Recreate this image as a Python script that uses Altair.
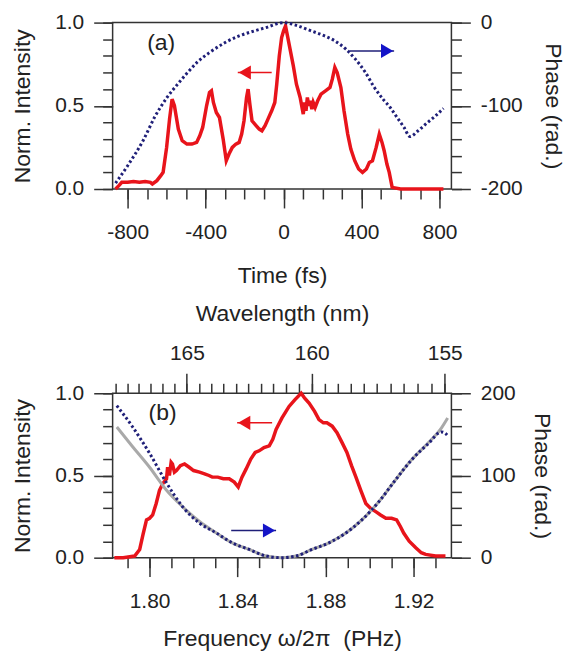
import altair as alt
import pandas as pd

FONT = "Liberation Sans"
RED = "#e8141b"
NAVY = "#1f1f78"
ARROW_BLUE = "#1414c8"
GREY = "#a9a9a9"
TXT = "#222222"
AXC = "#333333"
C_NM_PHZ = 299.792458

# ---------------- panel (a): temporal intensity / phase ----------------
time_fs = [-862, -845, -830, -800, -770, -740, -710, -683, -673, -650, -630, -618, -600, -585,
           -572, -560, -540, -520, -496, -470, -446, -430, -415, -395, -380, -370, -360, -345,
           -329, -310, -294, -280, -263, -245, -228, -215, -203, -190, -182, -172, -162, -140,
           -125, -111, -95, -80, -61, -45, -35, -22, -10, 0, 10, 20, 35, 50, 66, 85, 101, 108,
           115, 122, 130, 137, 145, 152, 162, 175, 192, 215, 238, 250, 263, 275, 294, 310, 329,
           345, 365, 385, 405, 425, 440, 456, 475, 491, 505, 516, 530, 542, 557, 600, 700, 820]
intensity_a = [0.0, 0.02, 0.04, 0.04, 0.045, 0.04, 0.045, 0.04, 0.03, 0.05, 0.08, 0.10, 0.25, 0.42,
               0.54, 0.50, 0.36, 0.29, 0.27, 0.27, 0.28, 0.32, 0.37, 0.50, 0.58, 0.59, 0.52, 0.46,
               0.43, 0.30, 0.17, 0.21, 0.25, 0.27, 0.28, 0.33, 0.41, 0.55, 0.60, 0.50, 0.41, 0.38,
               0.36, 0.35, 0.38, 0.42, 0.47, 0.52, 0.63, 0.80, 0.91, 0.95, 0.98, 0.92, 0.83, 0.74,
               0.63, 0.55, 0.45, 0.52, 0.47, 0.55, 0.50, 0.53, 0.48, 0.52, 0.49, 0.53, 0.57, 0.59,
               0.61, 0.66, 0.73, 0.70, 0.61, 0.47, 0.33, 0.24, 0.17, 0.12, 0.10, 0.12, 0.16, 0.17,
               0.25, 0.33, 0.28, 0.23, 0.15, 0.10, 0.01, 0.0, 0.0, 0.0]
phase_time = [-862, -800, -719, -660, -598, -540, -496, -440, -380, -300, -228, -150, -91, 0, 61,
              142, 200, 263, 320, 365, 420, 466, 510, 547, 585, 618, 648, 690, 734, 780, 820]
phase_a = [-193, -172, -141, -113, -90, -73, -61, -47, -36, -24, -16, -10, -6, 0, -3,
           -10, -15, -22, -32, -43, -60, -78, -92, -102, -115, -126, -137, -130, -121, -112, -103]

# ---------------- panel (b): spectral intensity / phase ----------------
freq_b = [1.7840, 1.7880, 1.7932, 1.7955, 1.7970, 1.7986, 1.8000, 1.8014, 1.8030, 1.8045, 1.8060,
          1.8077, 1.8082, 1.8090, 1.8098, 1.8104, 1.8113, 1.8122, 1.8140, 1.8159, 1.8180, 1.8200,
          1.8227, 1.8250, 1.8270, 1.8285, 1.8310, 1.8335, 1.8362, 1.8385, 1.8403, 1.8420, 1.8439,
          1.8460, 1.8480, 1.8498, 1.8520, 1.8544, 1.8560, 1.8575, 1.8602, 1.8634, 1.8660, 1.8689,
          1.8705, 1.8725, 1.8750, 1.8770, 1.8790, 1.8806, 1.8830, 1.8852, 1.8875, 1.8897, 1.8918,
          1.8938, 1.8960, 1.8983, 1.9005, 1.9028, 1.9050, 1.9074, 1.9100, 1.9123, 1.9140, 1.9155,
          1.9180, 1.9210, 1.9235, 1.9255, 1.9300, 1.9345]
intensity_b = [0.0, 0.0, 0.01, 0.05, 0.14, 0.23, 0.24, 0.26, 0.33, 0.41, 0.45, 0.48, 0.55, 0.50,
               0.58, 0.57, 0.52, 0.53, 0.56, 0.57, 0.55, 0.53, 0.52, 0.51, 0.50, 0.49, 0.49, 0.48,
               0.48, 0.46, 0.43, 0.49, 0.54, 0.60, 0.64, 0.65, 0.67, 0.68, 0.72, 0.78, 0.85, 0.92,
               0.96, 1.0, 0.97, 0.94, 0.89, 0.84, 0.82, 0.82, 0.80, 0.76, 0.70, 0.64, 0.56, 0.49,
               0.41, 0.33, 0.30, 0.28, 0.26, 0.24, 0.24, 0.23, 0.19, 0.15, 0.10, 0.06, 0.03, 0.02,
               0.01, 0.01]
phase_freq = [1.7851, 1.7923, 1.8000, 1.8077, 1.8150, 1.8227, 1.8304, 1.8376, 1.8453, 1.8530,
              1.8600, 1.8666, 1.8738, 1.8815, 1.8892, 1.8965, 1.9042, 1.9119, 1.9191, 1.9268,
              1.9327, 1.9345, 1.9359]
phase_b = [185, 159, 127, 91, 62, 42, 30, 18, 10, 2, 0, 2, 10, 18, 30, 46, 68, 95, 119, 139,
           153, 151, 147]
grey_freq = [1.7851, 1.7923, 1.8000, 1.8077, 1.8150, 1.8227, 1.8304, 1.8376, 1.8453, 1.8530,
             1.8600, 1.8666, 1.8738, 1.8815, 1.8892, 1.8965, 1.9042, 1.9119, 1.9191, 1.9268,
             1.9327, 1.9355]
grey_b = [159, 135, 110, 82, 62, 44, 30, 18, 10, 2, 0, 2, 10, 18, 30, 46, 68, 95, 119, 140,
          158, 170]

# tick values
t_major = [-800, -400, 0, 400, 800]
t_minor = list(range(-800, 801, 100))
f_major = [1.80, 1.84, 1.88, 1.92]
f_minor = [round(1.79 + 0.01 * i, 2) for i in range(15)]
wl_major = [165, 160, 155]
wl_minor = [155 + 0.5 * i for i in range(27)]
i_major = [0, 0.5, 1.0]
i_minor = [round(0.1 * i, 1) for i in range(11)]
pa_major = [-200, -100, 0]
pa_minor = list(range(-200, 1, 20))
pb_major = [0, 100, 200]
pb_minor = list(range(0, 201, 20))

# annotations (in data coordinates of the intensity axis)
labels_a = pd.DataFrame({"x": [-628], "y": [0.88], "txt": ["(a)"]})
labels_b = pd.DataFrame({"x": [1.8059], "y": [0.88], "txt": ["(b)"]})
arrows_a = pd.DataFrame({"x": [-61, 339], "x2": [-235, 567], "y": [0.70, 0.83],
                         "line": [RED, NAVY], "head": [RED, ARROW_BLUE],
                         "hx": [-199, 531], "shape": ["triangle-left", "triangle-right"]})
arrows_b = pd.DataFrame({"x": [1.8557, 1.8371], "x2": [1.8398, 1.8575], "y": [0.82, 0.165],
                         "line": [RED, NAVY], "head": [RED, ARROW_BLUE],
                         "hx": [1.8430, 1.8543], "shape": ["triangle-left", "triangle-right"]})

T_DOM = [-877, 861]
F_DOM = [1.7832, 1.9372]
W = 340
H_A = 167
H_B = 165
MAJOR = 19
MINOR = 10


def ax(**kw):
    base = dict(labelFont=FONT, titleFont=FONT, labelFontSize=21, titleFontSize=23,
                labelColor=TXT, titleColor=TXT, tickColor=AXC, tickWidth=1.5, domain=False,
                grid=False, labelFlush=False, labelOverlap=False,
                titleFontWeight="normal", labelFontWeight="normal")
    base.update(kw)
    return alt.Axis(**base)


def sc(dom):
    return alt.Scale(domain=dom, nice=False, zero=False)


def minor_axis_layer(vals, dom, orient, field):
    """Invisible layer whose only job is to carry a short-tick (minor) axis."""
    d = pd.DataFrame({field: vals})
    a = ax(orient=orient, values=vals, tickSize=MINOR, labels=False, title=None)
    pos = alt.X(f"{field}:Q", scale=sc(dom), axis=a) if orient in ("bottom", "top") else \
        alt.Y(f"{field}:Q", scale=sc(dom), axis=a)
    other = alt.Y(f"{field}:Q", scale=sc(dom), axis=None) if orient in ("bottom", "top") else \
        alt.X(f"{field}:Q", scale=sc(dom), axis=None)
    return alt.Chart(d).mark_point(opacity=0).encode(pos, other)


def annotations(lbl, arr, xdom):
    txt = alt.Chart(lbl).mark_text(font=FONT, fontSize=23, color=TXT).encode(
        x=alt.X("x:Q", scale=sc(xdom), axis=None),
        y=alt.Y("y:Q", scale=sc([0, 1]), axis=None), text="txt:N")
    lines = alt.Chart(arr).mark_rule(strokeWidth=1.5).encode(
        x=alt.X("x:Q", scale=sc(xdom), axis=None), x2="x2:Q",
        y=alt.Y("y:Q", scale=sc([0, 1]), axis=None),
        color=alt.Color("line:N", scale=None))
    heads = alt.Chart(arr).mark_point(filled=True, size=200, opacity=1).encode(
        x=alt.X("hx:Q", scale=sc(xdom), axis=None),
        y=alt.Y("y:Q", scale=sc([0, 1]), axis=None),
        shape=alt.Shape("shape:N", scale=None),
        color=alt.Color("head:N", scale=None))
    return [txt, lines, heads]


df_a = pd.DataFrame({"t": time_fs, "I": intensity_a})
dfp_a = pd.DataFrame({"t": phase_time, "P": phase_a})

red_a = alt.Chart(df_a).mark_line(color=RED, strokeWidth=3.5).encode(
    x=alt.X("t:Q", scale=sc(T_DOM), axis=ax(orient="bottom", values=t_major, tickSize=MAJOR,
                                             labelPadding=14, labelExpr="'' + datum.value",
                                             title="Time (fs)", titlePadding=22)),
    y=alt.Y("I:Q", scale=sc([0, 1]), axis=ax(orient="left", values=i_major, format=".1f",
                                              tickSize=MAJOR, labelPadding=10,
                                              title="Norm. Intensity", titlePadding=20)))
phase_line_a = alt.Chart(dfp_a).mark_line(color=NAVY, strokeWidth=3, strokeDash=[2.5, 2.5],
                                          interpolate="monotone").encode(
    x=alt.X("t:Q", scale=sc(T_DOM), axis=None),
    y=alt.Y("P:Q", scale=sc([-200, 0]), axis=ax(orient="right", values=pa_major, tickSize=MAJOR,
                                                 labelPadding=10, labelExpr="'' + datum.value",
                                                 title="Phase (rad.)", titlePadding=18)))

panel_a = alt.layer(
    red_a, phase_line_a,
    minor_axis_layer(t_minor, T_DOM, "bottom", "mt"),
    minor_axis_layer(i_minor, [0, 1], "left", "mi"),
    minor_axis_layer(pa_minor, [-200, 0], "right", "mp"),
    *annotations(labels_a, arrows_a, T_DOM)
).resolve_scale(x="independent", y="independent").properties(width=W, height=H_A)

df_b = pd.DataFrame({"f": freq_b, "I": intensity_b})
dfp_b = pd.DataFrame({"f": phase_freq, "P": phase_b})
dfg_b = pd.DataFrame({"f": grey_freq, "P": grey_b})

red_b = alt.Chart(df_b).mark_line(color=RED, strokeWidth=3.5).encode(
    x=alt.X("f:Q", scale=sc(F_DOM), axis=ax(orient="bottom", values=f_major, format=".2f",
                                             tickSize=MAJOR, labelPadding=14,
                                             title="Frequency ω/2π\u00a0 (PHz)", titlePadding=16)),
    y=alt.Y("I:Q", scale=sc([0, 1]), axis=ax(orient="left", values=i_major, format=".1f",
                                              tickSize=MAJOR, labelPadding=10,
                                              title="Norm. Intensity", titlePadding=20)))
grey_line_b = alt.Chart(dfg_b).mark_line(color=GREY, strokeWidth=3, interpolate="monotone").encode(
    x=alt.X("f:Q", scale=sc(F_DOM), axis=None),
    y=alt.Y("P:Q", scale=sc([0, 200]), axis=ax(orient="right", values=pb_major, tickSize=MAJOR,
                                                labelPadding=10, title="Phase (rad.)",
                                                titlePadding=14)))
phase_line_b = alt.Chart(dfp_b).mark_line(color=NAVY, strokeWidth=3, strokeDash=[2.5, 2.5],
                                          interpolate="monotone").encode(
    x=alt.X("f:Q", scale=sc(F_DOM), axis=None),
    y=alt.Y("P:Q", scale=sc([0, 200]), axis=None))
wl_top = alt.Chart(dfp_b).mark_line(opacity=0).encode(
    x=alt.X("f:Q", scale=sc(F_DOM),
            axis=ax(orient="top", values=[C_NM_PHZ / w for w in wl_major], tickSize=20,
                    labelPadding=10, labelExpr=f"format({C_NM_PHZ}/datum.value, '.0f')",
                    title="Wavelength (nm)", titlePadding=17)),
    y=alt.Y("P:Q", scale=sc([0, 200]), axis=None))

panel_b = alt.layer(
    red_b, grey_line_b, phase_line_b, wl_top,
    minor_axis_layer(f_minor, F_DOM, "bottom", "mf"),
    minor_axis_layer([C_NM_PHZ / w for w in wl_minor], F_DOM, "top", "mw"),
    minor_axis_layer(i_minor, [0, 1], "left", "mi"),
    minor_axis_layer(pb_minor, [0, 200], "right", "mp"),
    *annotations(labels_b, arrows_b, F_DOM)
).resolve_scale(x="independent", y="independent").properties(width=W, height=H_B)

chart = alt.vconcat(panel_a, panel_b, spacing=13).properties(
    padding={"left": 3, "top": 1.5, "right": 3, "bottom": 0}
).configure(font=FONT).configure_view(stroke=AXC, strokeWidth=1.5)

chart.save("out.html", embed_options={"renderer": "svg", "actions": False})
